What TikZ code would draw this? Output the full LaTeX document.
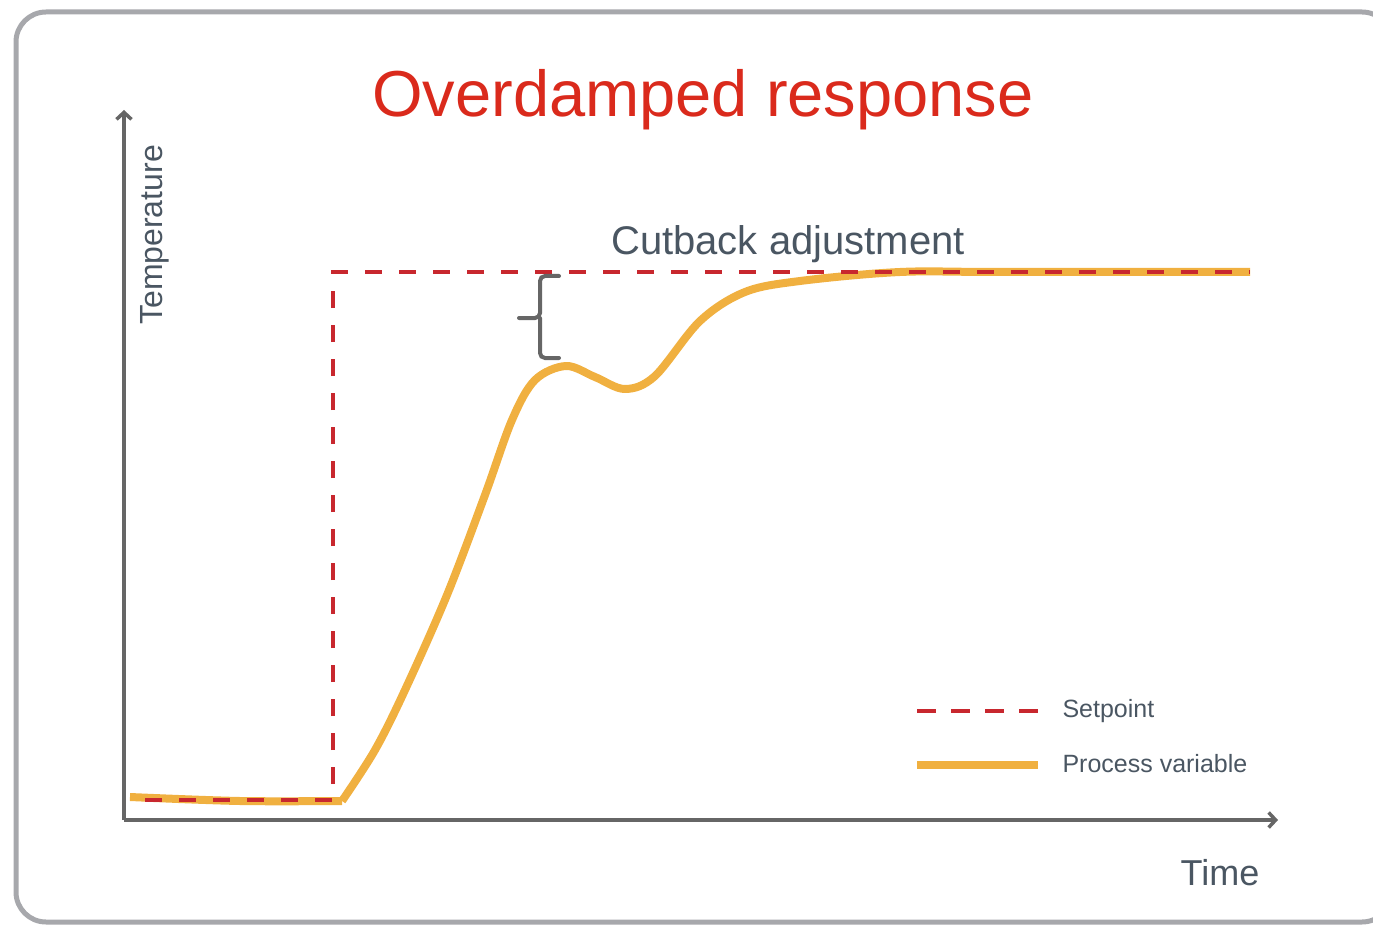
\documentclass[tikz,border=0pt]{standalone}
\usepackage{fontspec}
\setmainfont{Liberation Sans}
\usepackage{tikz}
\usepackage{xcolor}
\usetikzlibrary{arrows.meta}
\definecolor{frame-gray}{HTML}{A7A8AC}
\definecolor{axis-gray}{HTML}{666666}
\definecolor{text-gray}{HTML}{4A5662}
\definecolor{title-red}{HTML}{DA2A1C}
\definecolor{setpoint-red}{HTML}{C8272E}
\definecolor{process-orange}{HTML}{F0B040}
\tikzset{
    chart-frame/.style = {draw=frame-gray, line width=5pt, rounded corners=30pt},
    chart-axis/.style = {draw=axis-gray, line width=4.5pt, -{Straight Barb[length=7pt,width=15pt,line width=3.5pt]}},
    setpoint-line/.style = {draw=setpoint-red, line width=4.5pt, dash pattern=on 17pt off 17pt},
    process-line/.style = {draw=process-orange, line width=8pt, line join=round},
    axis-label/.style = {text=text-gray, font=\fontsize{32}{34}\selectfont},
    legend-label/.style = {text=text-gray, font=\fontsize{25}{27}\selectfont, anchor=west},
}

\begin{document}
\begin{tikzpicture}[x=1pt, y=-1pt]
\useasboundingbox (0,0) rectangle (1373,925);
\draw[chart-frame] (16,12) rectangle (1392,922);
\node[text=title-red, font=\fontsize{65}{70}\selectfont] (title) at (703,100) {Overdamped response};

% axes
\coordinate (origin) at (124,820);
\coordinate (y-tip) at (124,110);
\coordinate (x-tip) at (1278,820);
\draw[chart-axis] (origin) -- (y-tip);
\draw[chart-axis] (origin) -- (x-tip);
\node[axis-label, rotate=90] (temperature) at (155,235) {Temperature};
\node[axis-label, font=\fontsize{36}{38}\selectfont] (time) at (1220,873) {Time};

% process variable
\draw[process-line] plot[smooth, tension=0.55] coordinates {
    (130,797) (240,801) (342,801)};
\draw[process-line] plot[smooth, tension=0.55] coordinates {
    (342,801) (375,750) (405,690) (447,595) (485,495) (512,420)
    (535,380) (566,366) (595,377) (625,389) (655,376) (700,321)
    (745,292) (800,281) (900,272) (1000,272) (1250,272)};

% setpoint
\coordinate (sp-start) at (145,800);
\coordinate (sp-low) at (333,800);
\coordinate (sp-high) at (333,272);
\coordinate (sp-end) at (1250,272);
\draw[setpoint-line] (sp-start) -- (sp-low) -- (sp-high) -- (sp-end);

% cutback
\coordinate (gap-top) at (559,276);
\coordinate (gap-bottom) at (559,358);
\coordinate (gap-tip) at (519,318);
\draw[axis-gray, line width=4pt, line cap=round, rounded corners=5pt]
    (gap-top) -| (540,318) -- (gap-tip);
\draw[axis-gray, line width=4pt, line cap=round, rounded corners=5pt]
    (gap-bottom) -| (540,318);
\node[text=text-gray, font=\fontsize{40}{42}\selectfont] (cutback) at (788,244) {Cutback adjustment};

% legend
\coordinate (leg-sp-a) at (917,711);
\coordinate (leg-sp-b) at (1040,711);
\coordinate (leg-pv-a) at (917,765);
\coordinate (leg-pv-b) at (1038,765);
\draw[setpoint-line, dash pattern=on 19pt off 15pt] (leg-sp-a) -- (leg-sp-b);
\draw[process-line, line width=8pt] (leg-pv-a) -- (leg-pv-b);
\node[legend-label] (setpoint) at (1059,711) {Setpoint};
\node[legend-label] (process) at (1059,764) {Process variable};
\end{tikzpicture}
\end{document}
